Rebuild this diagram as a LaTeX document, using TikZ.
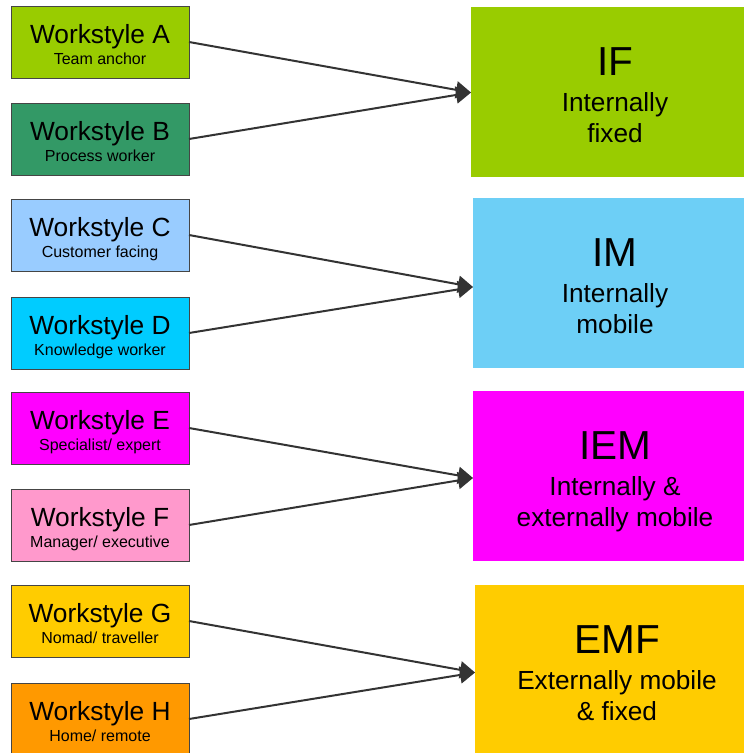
\documentclass[tikz,border=0pt]{standalone}
\usepackage{fontspec}
\setmainfont{Liberation Sans}
\usetikzlibrary{arrows.meta}

\definecolor{boxline}{HTML}{454545}
\definecolor{arrowgray}{HTML}{333333}
\definecolor{cA}{HTML}{99CC00}
\definecolor{cB}{HTML}{339966}
\definecolor{cC}{HTML}{99CCFF}
\definecolor{cD}{HTML}{00CCFF}
\definecolor{cE}{HTML}{FF00FF}
\definecolor{cF}{HTML}{FF99CC}
\definecolor{cG}{HTML}{FFCC00}
\definecolor{cH}{HTML}{FF9900}
\definecolor{cIF}{HTML}{99CC00}
\definecolor{cIM}{HTML}{6DCFF6}
\definecolor{cIEM}{HTML}{FF00FF}
\definecolor{cEMF}{HTML}{FFCC00}

\begin{document}
\begin{tikzpicture}[x=1pt,y=-1pt,
  wsbox/.style={draw=boxline, line width=1pt, minimum width=178pt,
    minimum height=72pt, inner sep=0pt, outer sep=0pt, anchor=north west},
  groupbox/.style={minimum width=289pt, minimum height=170pt,
    inner sep=0pt, outer sep=0pt, anchor=north west},
  wstitle/.style={anchor=base, inner sep=0pt, font=\fontsize{26.3}{30}\selectfont},
  wssub/.style={anchor=base, inner sep=0pt, font=\fontsize{16}{19}\selectfont},
  grptitle/.style={anchor=base, inner sep=0pt, font=\fontsize{40.5}{44}\selectfont},
  grptext/.style={anchor=base, inner sep=0pt, font=\fontsize{26.2}{31}\selectfont},
  link/.style={draw=arrowgray, line width=2pt,
    -{Triangle[length=15pt,width=17pt]}}]

\clip (0,0) rectangle (744,753);

% Workstyle boxes (left column)
\foreach \id/\top/\title/\sub in {
    A/6/Workstyle A/{Team anchor},
    B/103/Workstyle B/{Process worker},
    C/199/Workstyle C/{Customer facing},
    D/297/Workstyle D/{Knowledge worker},
    E/392/Workstyle E/{Specialist/ expert},
    F/489/Workstyle F/{Manager/ executive},
    G/585/Workstyle G/{Nomad/ traveller},
    H/683/Workstyle H/{Home/ remote}}{
  \node[wsbox, fill=c\id] (ws\id) at (11,\top) {};
  \node[wstitle] (ws\id title) at (100,\top+37) {\title};
  \node[wssub] (ws\id sub) at (100,\top+58) {\sub};
}

% Mobility groups (right column)
\node[groupbox, fill=cIF]  (gIF)  at (471,7)   {};
\node[groupbox, fill=cIM]  (gIM)  at (473,198) {};
\node[groupbox, fill=cIEM] (gIEM) at (473,391) {};
\node[groupbox, fill=cEMF, minimum height=175pt] (gEMF) at (475,585) {};

\node[grptitle] (gIFt)  at (615,75)  {IF};
\node[grptext]  (gIFa)  at (615,111) {Internally};
\node[grptext]  (gIFb)  at (615,142) {fixed};

\node[grptitle] (gIMt)  at (615,266) {IM};
\node[grptext]  (gIMa)  at (615,302) {Internally};
\node[grptext]  (gIMb)  at (615,333) {mobile};

\node[grptitle] (gIEMt) at (615,459) {IEM};
\node[grptext]  (gIEMa) at (615,495) {Internally \&};
\node[grptext]  (gIEMb) at (615,526) {externally mobile};

\node[grptitle] (gEMFt) at (617,653) {EMF};
\node[grptext]  (gEMFa) at (617,689) {Externally mobile};
\node[grptext]  (gEMFb) at (617,720) {\& fixed};

% Connectors
\draw[link] (wsA.east) -- ([yshift=-0.5pt]gIF.west);
\draw[link] (wsB.east) -- ([yshift=-0.5pt]gIF.west);
\draw[link] (wsC.east) -- ([yshift=-4pt]gIM.west);
\draw[link] (wsD.east) -- ([yshift=-4pt]gIM.west);
\draw[link] (wsE.east) -- ([yshift=-2pt]gIEM.west);
\draw[link] (wsF.east) -- ([yshift=-2pt]gIEM.west);
\draw[link] (wsG.east) -- (gEMF.west);
\draw[link] (wsH.east) -- (gEMF.west);
\end{tikzpicture}
\end{document}
